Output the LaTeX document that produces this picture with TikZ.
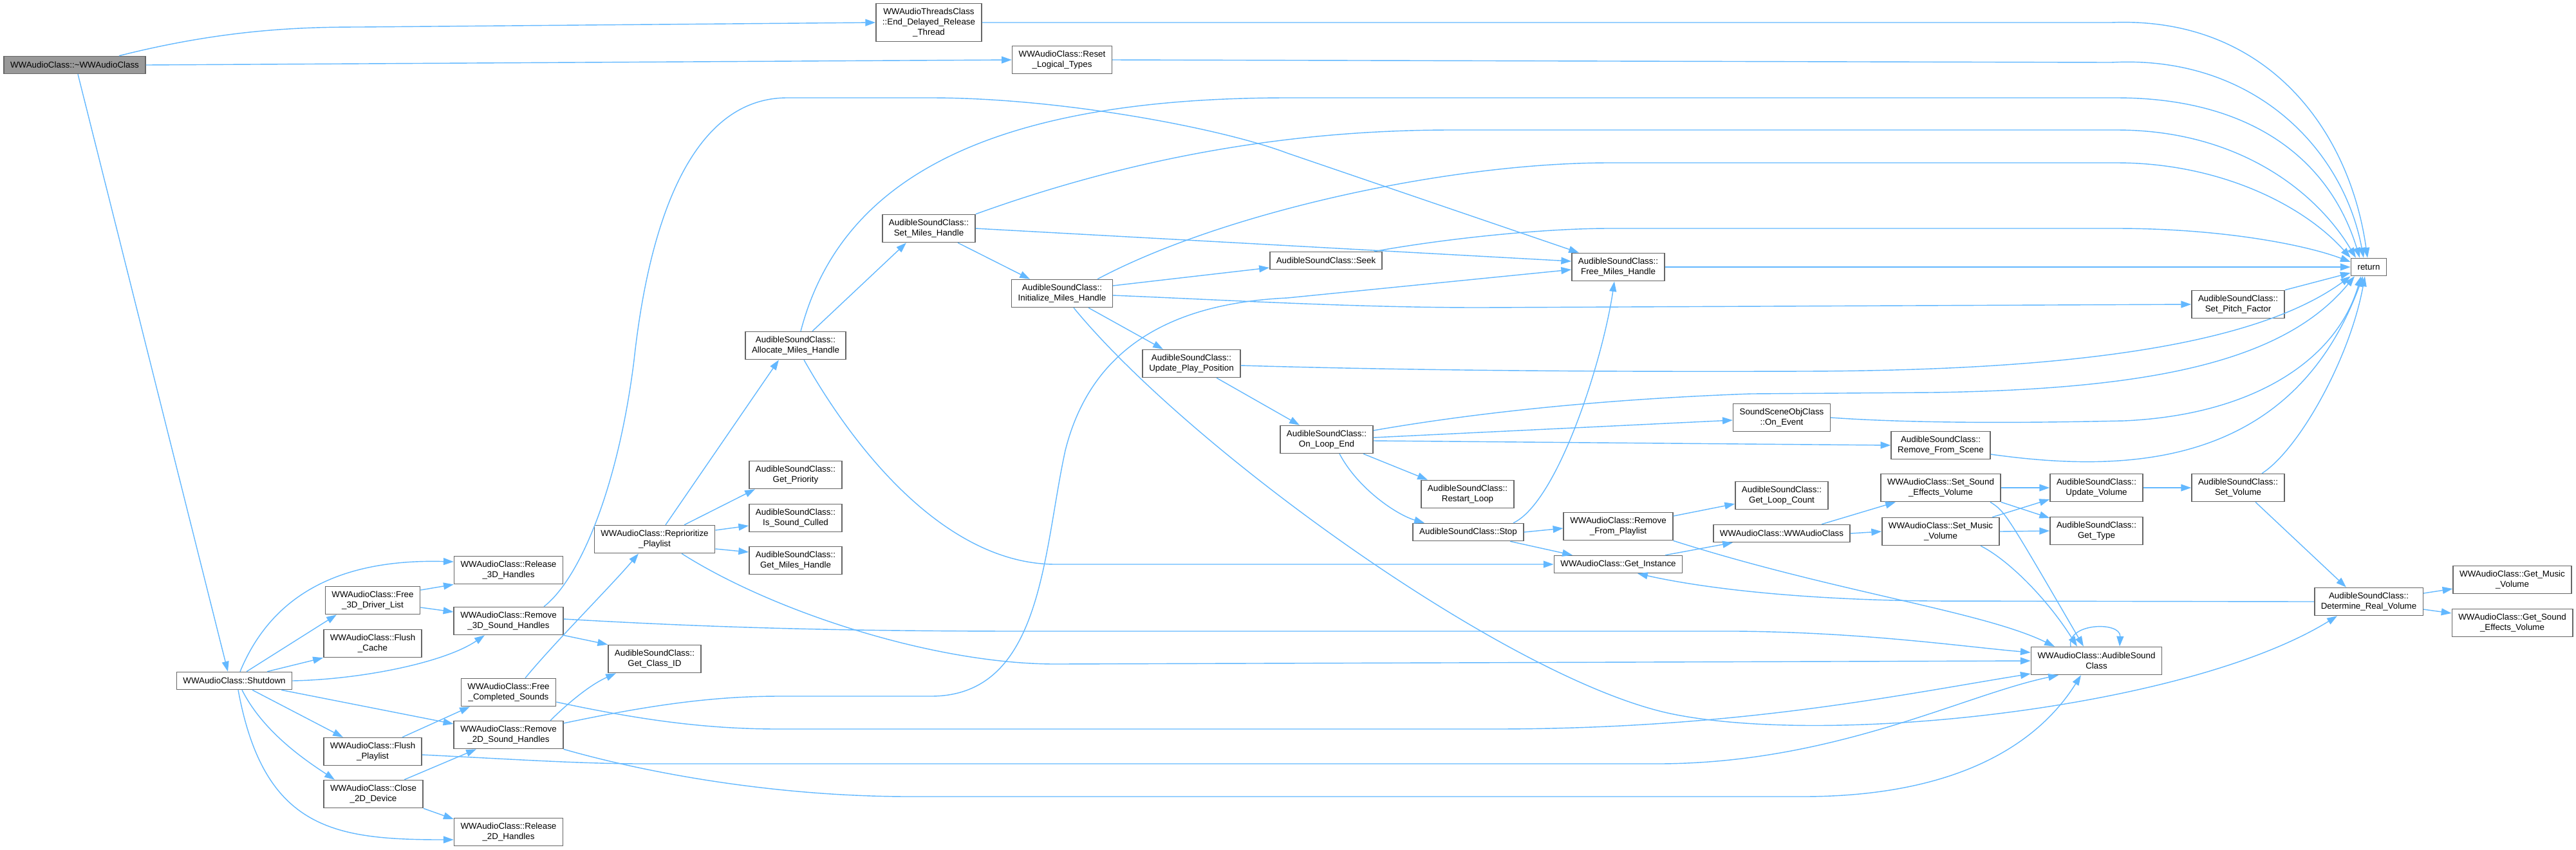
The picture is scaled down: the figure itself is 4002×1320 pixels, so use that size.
\documentclass[tikz,border=0pt]{standalone}
\usepackage{fontspec}
\setmainfont{Liberation Sans}
\usepackage{tikz}
\usetikzlibrary{arrows.meta}
\definecolor{edgeblue}{HTML}{63B8FF}
\definecolor{boxline}{HTML}{666666}
\definecolor{rootfill}{HTML}{999999}

\begin{document}
\begin{tikzpicture}[x=0.01cm, y=-0.01cm, >={Triangle[length=4.5pt,width=3.1pt]}]
  \tikzstyle{fn}=[draw=boxline, fill=white, line width=0.45pt,
    font=\fontsize{3.8}{4.55}\selectfont, align=center,
    inner xsep=0.1cm, inner ysep=0pt, minimum height=0.43cm]
  \tikzstyle{fn1}=[fn, minimum height=0.27cm]
  \tikzstyle{fn3}=[fn, minimum height=0.59cm]
  \tikzstyle{cl}=[->, draw=edgeblue, line width=0.4pt]

  \useasboundingbox (0,0) rectangle (4002,1320);

  \node[fn1, fill=rootfill] (main) at (116,101) {WWAudioClass::\textasciitilde WWAudioClass};
  \node[fn1] (sd)   at (364,1058)  {WWAudioClass::Shutdown};
  \node[fn3] (edr)  at (1443,35)   {WWAudioThreadsClass\\::End\_Delayed\_Release\\\_Thread};
  \node[fn]  (rlt)  at (1650,93)   {WWAudioClass::Reset\\\_Logical\_Types};
  \node[fn]  (smh)  at (1443,355)  {AudibleSoundClass::\\Set\_Miles\_Handle};
  \node[fn]  (imh)  at (1650,456)  {AudibleSoundClass::\\Initialize\_Miles\_Handle};
  \node[fn]  (amh)  at (1236,537)  {AudibleSoundClass::\\Allocate\_Miles\_Handle};
  \node[fn]  (upp)  at (1851,565)  {AudibleSoundClass::\\Update\_Play\_Position};
  \node[fn1] (seek) at (2060,405)  {AudibleSoundClass::Seek};
  \node[fn]  (fmh)  at (2514,415)  {AudibleSoundClass::\\Free\_Miles\_Handle};
  \node[fn1] (ret)  at (3680,415)  {return};
  \node[fn]  (spf)  at (3477,473)  {AudibleSoundClass::\\Set\_Pitch\_Factor};
  \node[fn]  (ole)  at (2061,683)  {AudibleSoundClass::\\On\_Loop\_End};
  \node[fn]  (rl)   at (2280,768)  {AudibleSoundClass::\\Restart\_Loop};
  \node[fn1] (stop) at (2281,827)  {AudibleSoundClass::Stop};
  \node[fn]  (oe)   at (2768,649)  {SoundSceneObjClass\\::On\_Event};
  \node[fn]  (rfs)  at (3015,692)  {AudibleSoundClass::\\Remove\_From\_Scene};
  \node[fn]  (glc)  at (2768,770)  {AudibleSoundClass::\\Get\_Loop\_Count};
  \node[fn]  (rfp)  at (2514,818)  {WWAudioClass::Remove\\\_From\_Playlist};
  \node[fn1] (ctor) at (2768,829)  {WWAudioClass::WWAudioClass};
  \node[fn1] (gi)   at (2514,877)  {WWAudioClass::Get\_Instance};
  \node[fn]  (ssev) at (3015,758)  {WWAudioClass::Set\_Sound\\\_Effects\_Volume};
  \node[fn]  (smv)  at (3015,826)  {WWAudioClass::Set\_Music\\\_Volume};
  \node[fn]  (uv)   at (3257,758)  {AudibleSoundClass::\\Update\_Volume};
  \node[fn]  (gt)   at (3257,825)  {AudibleSoundClass::\\Get\_Type};
  \node[fn]  (sv)   at (3477,758)  {AudibleSoundClass::\\Set\_Volume};
  \node[fn]  (drv)  at (3680,935)  {AudibleSoundClass::\\Determine\_Real\_Volume};
  \node[fn]  (gmv)  at (3903,901)  {WWAudioClass::Get\_Music\\\_Volume};
  \node[fn]  (gsev) at (3903,968)  {WWAudioClass::Get\_Sound\\\_Effects\_Volume};
  \node[fn]  (asc)  at (3257,1027) {WWAudioClass::AudibleSound\\Class};
  \node[fn]  (r3d)  at (790,886)   {WWAudioClass::Release\\\_3D\_Handles};
  \node[fn]  (f3d)  at (579,933)   {WWAudioClass::Free\\\_3D\_Driver\_List};
  \node[fn]  (rm3)  at (790,965)   {WWAudioClass::Remove\\\_3D\_Sound\_Handles};
  \node[fn]  (fc)   at (579,1000)  {WWAudioClass::Flush\\\_Cache};
  \node[fn]  (fcs)  at (790,1076)  {WWAudioClass::Free\\\_Completed\_Sounds};
  \node[fn]  (rm2)  at (790,1142)  {WWAudioClass::Remove\\\_2D\_Sound\_Handles};
  \node[fn]  (fp)   at (579,1168)  {WWAudioClass::Flush\\\_Playlist};
  \node[fn]  (c2d)  at (580,1234)  {WWAudioClass::Close\\\_2D\_Device};
  \node[fn]  (r2d)  at (790,1293)  {WWAudioClass::Release\\\_2D\_Handles};
  \node[fn]  (gcid) at (1017,1024) {AudibleSoundClass::\\Get\_Class\_ID};
  \node[fn]  (rpp)  at (1017,838)  {WWAudioClass::Reprioritize\\\_Playlist};
  \node[fn]  (gp)   at (1236,738)  {AudibleSoundClass::\\Get\_Priority};
  \node[fn]  (isc)  at (1236,805)  {AudibleSoundClass::\\Is\_Sound\_Culled};
  \node[fn]  (gmh)  at (1236,871)  {AudibleSoundClass::\\Get\_Miles\_Handle};

  % destructor
  \draw[cl] ([xshift=0.69cm]main.north) .. controls (350,45) and (470,42) .. (560,42) -- (edr.west);
  \draw[cl] (main.east) -- (rlt.west);
  \draw[cl] ([xshift=0.05cm]main.south) -- ([xshift=-0.1cm]sd.north);

  % shutdown
  \draw[cl] ([xshift=0.09cm]sd.north) .. controls (420,930) and (520,868) .. ([yshift=0.13cm]r3d.west);
  \draw[cl] ([xshift=0.19cm]sd.north) -- ([xshift=-0.56cm]f3d.south);
  \draw[cl] ([xshift=0.51cm]sd.north) -- (fc.south west);
  \draw[cl] (sd.east) .. controls (560,1056) and (690,1030) .. ([xshift=-0.37cm]rm3.south);
  \draw[cl] ([xshift=0.73cm]sd.south) -- ([yshift=0.17cm]rm2.west);
  \draw[cl] ([xshift=0.28cm]sd.south) -- ([xshift=-0.46cm]fp.north);
  \draw[cl] ([xshift=0.12cm]sd.south) .. controls (410,1140) and (480,1185) .. ([xshift=-0.6cm]c2d.north);
  \draw[cl] ([xshift=0.06cm]sd.south) .. controls (410,1290) and (520,1305) .. ([yshift=-0.12cm]r2d.west);

  \draw[cl] ([yshift=0.16cm]f3d.east) -- (r3d.south west);
  \draw[cl] ([yshift=-0.11cm]f3d.east) -- ([yshift=0.14cm]rm3.west);
  \draw[cl] (rm3.south east) -- (gcid.north west);
  \draw[cl] ([yshift=0.03cm]rm3.east) .. controls (1100,975) and (1300,981) .. (1600,981) -- (2700,981)
    .. controls (2900,983) and (3050,1005) .. ([yshift=0.13cm]asc.west);
  \draw[cl] ([xshift=0.55cm]rm3.north) .. controls (900,900) and (960,760) .. (985,560)
    .. controls (1010,330) and (1080,152) .. (1223,152) -- (1446,152)
    .. controls (1650,152) and (1900,200) .. (2000,238) -- ([xshift=-0.61cm]fmh.north);
  \draw[cl] ([xshift=0.65cm]rm2.north) .. controls (880,1095) and (915,1065) .. ([xshift=-0.6cm]gcid.south);
  \draw[cl] ([yshift=0.18cm]rm2.east) .. controls (1000,1098) and (1100,1082) .. (1210,1082) -- (1446,1082)
    .. controls (1620,1082) and (1620,860) .. (1655,700)
    .. controls (1700,520) and (1850,470) .. (2000,463) -- ([yshift=-0.04cm]fmh.west);
  \draw[cl] (rm2.south east) .. controls (1000,1200) and (1200,1238) .. (1415,1238) -- (2800,1238)
    .. controls (3050,1238) and (3170,1150) .. ([xshift=-0.24cm]asc.south);
  \draw[cl] ([xshift=0.26cm]fcs.north) .. controls (860,1000) and (950,910) .. ([xshift=-0.25cm]rpp.south);
  \draw[cl] ([yshift=-0.15cm]fcs.east) .. controls (1000,1120) and (1100,1133) .. (1210,1133) -- (2319,1133)
    .. controls (2700,1133) and (2950,1080) .. ([yshift=-0.2cm]asc.west);
  \draw[cl] ([xshift=0.46cm]fp.north) -- ([xshift=-0.6cm]fcs.south);
  \draw[cl] ([yshift=-0.05cm]fp.east) .. controls (800,1180) and (900,1187) .. (1000,1187) -- (2574,1187)
    .. controls (2850,1187) and (3050,1080) .. ([xshift=-0.59cm]asc.south);
  \draw[cl] ([xshift=0.48cm]c2d.north) -- ([xshift=-0.5cm]rm2.south);
  \draw[cl] (c2d.south east) -- ([yshift=0.2cm]r2d.west);

  % playlist
  \draw[cl] ([xshift=0.17cm]rpp.north) -- ([xshift=-0.26cm]amh.south);
  \draw[cl] ([xshift=0.46cm]rpp.north) -- ([xshift=-0.63cm]gp.south);
  \draw[cl] ([yshift=0.14cm]rpp.east) -- ([yshift=-0.12cm]isc.west);
  \draw[cl] ([yshift=-0.15cm]rpp.east) -- ([yshift=0.13cm]gmh.west);
  \draw[cl] ([xshift=0.42cm]rpp.south) .. controls (1200,950) and (1450,1032) .. (1640,1032) -- (asc.west);

  % miles handles
  \draw[cl] ([xshift=0.26cm]amh.north) -- ([xshift=-0.35cm]smh.south);
  \draw[cl] ([xshift=0.08cm]amh.north) .. controls (1300,300) and (1500,152) .. (2000,152) -- (3288,152)
    .. controls (3500,152) and (3620,250) .. ([xshift=-0.14cm]ret.north);
  \draw[cl] ([xshift=0.13cm]amh.south) .. controls (1340,720) and (1480,877) .. (1640,877) -- (gi.west);
  \draw[cl] ([xshift=0.45cm]smh.south) -- ([xshift=-0.5cm]imh.north);
  \draw[cl] (smh.north east) .. controls (1800,230) and (2050,202) .. (2255,202) -- (3288,202)
    .. controls (3480,202) and (3600,300) .. ([xshift=-0.2cm]ret.north);
  \draw[cl] (smh.east) -- ([yshift=0.09cm]fmh.west);
  \draw[cl] ([yshift=0.12cm]imh.east) -- ([yshift=-0.11cm]seek.west);
  \draw[cl] ([xshift=0.41cm]imh.south) -- ([xshift=-0.44cm]upp.north);
  \draw[cl] ([yshift=-0.03cm]imh.east) .. controls (1900,466) and (2100,478) .. (2300,478) -- (spf.west);
  \draw[cl] ([xshift=0.55cm]imh.north) .. controls (1900,330) and (2250,253) .. (2500,253) -- (3288,253)
    .. controls (3450,253) and (3580,320) .. (ret.north west);
  \draw[cl] ([xshift=0.18cm]imh.south) .. controls (1850,700) and (2350,1060) .. (2600,1110)
    .. controls (2850,1160) and (3400,1100) .. ([xshift=-0.49cm]drv.south);

  % loop end
  \draw[cl] ([xshift=0.39cm]upp.south) -- ([xshift=-0.42cm]ole.north);
  \draw[cl] ([yshift=-0.03cm]upp.east) .. controls (2200,576) and (2500,578) .. (2800,577)
    .. controls (3200,576) and (3500,540) .. (ret.south west);
  \draw[cl] ([yshift=0.03cm]ole.east) -- ([yshift=-0.04cm]oe.west);
  \draw[cl] ([yshift=-0.02cm]ole.east) -- (rfs.west);
  \draw[cl] ([xshift=0.57cm]ole.south) -- ([xshift=-0.62cm]rl.north);
  \draw[cl] ([xshift=0.2cm]ole.south) .. controls (2110,760) and (2170,800) .. ([xshift=-0.68cm]stop.north);
  \draw[cl] ([yshift=0.14cm]ole.east) .. controls (2300,640) and (2500,620) .. (2720,612) -- (3000,610)
    .. controls (3350,605) and (3550,560) .. ([xshift=-0.22cm]ret.south);
  \draw[cl] (oe.east) .. controls (3000,660) and (3200,656) .. (3300,654)
    .. controls (3500,645) and (3630,560) .. ([xshift=-0.12cm]ret.south);
  \draw[cl] ([yshift=-0.14cm]rfs.east) .. controls (3300,735) and (3560,730) .. ([xshift=-0.09cm]ret.south);
  \draw[cl] ([xshift=0.75cm]seek.north) .. controls (2250,370) and (2400,355) .. (2500,355) -- (3288,355)
    .. controls (3450,355) and (3580,380) .. ([yshift=0.08cm]ret.west);
  \draw[cl] (fmh.east) -- (ret.west);
  \draw[cl] (spf.north east) -- ([yshift=-0.09cm]ret.west);
  \draw[cl] (edr.east) -- (3280,35) .. controls (3520,25) and (3650,200) .. ([xshift=-0.02cm]ret.north);
  \draw[cl] (rlt.east) -- (3280,97) .. controls (3500,85) and (3640,230) .. ([xshift=-0.08cm]ret.north);

  % stop and playlist removal
  \draw[cl] (stop.east) -- ([yshift=-0.03cm]rfp.west);
  \draw[cl] ([xshift=0.65cm]stop.south) -- ([xshift=-0.71cm]gi.north);
  \draw[cl] ([xshift=0.7cm]stop.north) .. controls (2420,780) and (2490,560) .. ([xshift=-0.06cm]fmh.south);
  \draw[cl] ([yshift=0.16cm]rfp.east) -- ([yshift=-0.13cm]glc.west);
  \draw[cl] (rfp.south east) .. controls (2850,920) and (3080,950) .. ([xshift=-0.65cm]asc.north);
  \draw[cl] ([xshift=0.73cm]gi.north) -- ([xshift=-0.76cm]ctor.south);
  \draw[cl] ([xshift=0.62cm]ctor.north) -- ([xshift=-0.7cm]ssev.south);
  \draw[cl] (ctor.east) -- (smv.west);

  % volume
  \draw[cl] (ssev.east) -- (uv.west);
  \draw[cl] (ssev.south east) -- ([yshift=0.2cm]gt.west);
  \draw[cl] ([xshift=0.77cm]ssev.south) .. controls (3115,795) .. ([xshift=-0.2cm]asc.north);
  \draw[cl] ([xshift=0.8cm]smv.north) -- ([yshift=-0.18cm]uv.west);
  \draw[cl] (smv.east) -- (gt.west);
  \draw[cl] ([xshift=0.62cm]smv.south) .. controls (3120,870) and (3180,930) .. ([xshift=-0.3cm]asc.north);
  \draw[cl] (uv.east) -- (sv.west);
  \draw[cl] ([xshift=0.27cm]sv.south) -- ([xshift=-0.35cm]drv.north);
  \draw[cl] ([xshift=0.37cm]sv.north) .. controls (3570,700) and (3650,560) .. ([xshift=-0.06cm]ret.south);
  \draw[cl] ([yshift=0.13cm]drv.east) -- ([yshift=-0.14cm]gmv.west);
  \draw[cl] ([yshift=-0.12cm]drv.east) -- ([yshift=0.15cm]gsev.west);
  \draw[cl] (drv.west) -- (3000,934) .. controls (2800,932) and (2650,915) .. ([xshift=0.3cm]gi.south);
  \draw[cl] ([xshift=-0.4cm]asc.north) .. controls (3210,968) and (3295,965) .. ([xshift=0.36cm]asc.north);
\end{tikzpicture}
\end{document}
